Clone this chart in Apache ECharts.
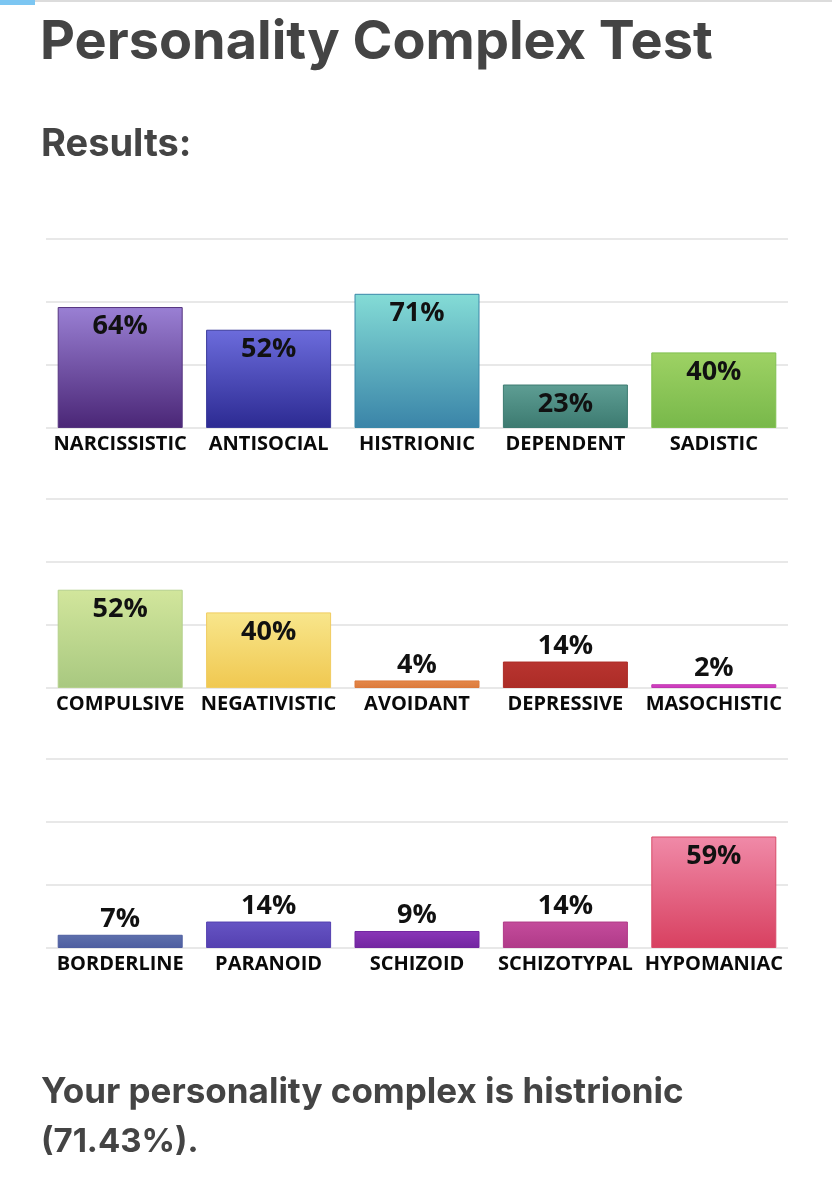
<!DOCTYPE html>
<html>
<head>
<meta charset="utf-8">
<script src="https://cdn.jsdelivr.net/npm/echarts@6/dist/echarts.min.js"></script>
<style>
html,body{margin:0;padding:0;background:#fff;}
#c{width:832px;height:1200px;}
</style>
</head>
<body>
<div id="c"></div>
<script>
// ---- data ----
var categories1 = ['NARCISSISTIC','ANTISOCIAL','HISTRIONIC','DEPENDENT','SADISTIC'];
var values1 = [64, 52, 71, 23, 40];
var categories2 = ['COMPULSIVE','NEGATIVISTIC','AVOIDANT','DEPRESSIVE','MASOCHISTIC'];
var values2 = [52, 40, 4, 14, 2];
var categories3 = ['BORDERLINE','PARANOID','SCHIZOID','SCHIZOTYPAL','HYPOMANIAC'];
var values3 = [7, 14, 9, 14, 59];
var titleText = 'Personality Complex Test';
var subtitleText = 'Results:';
var resultLine1 = 'Your personality complex is histrionic';
var resultLine2 = '(71.43%).';

// ---- styles (top colour, bottom colour, border) ----
var palette1 = [['#9a80d4','#4a2676','#54347e'],['#6c6cdc','#2c2a92','#3a3a9a'],['#84dcd6','#3a84a8','#3a88a8'],['#5e9e94','#3c7a70','#3c7a70'],['#9ed264','#78b84a','#80c050']];
var palette2 = [['#d2e69c','#a8c880','#b4d08c'],['#f8e68c','#f0c850','#f0cc60'],['#e4884a','#dc7a3c','#dc7a3c'],['#b83430','#ac2c26','#ac2c26'],['#d848c8','#c836b8','#c036b0']];
var palette3 = [['#5e70ac','#4e5ea0','#4e5ea0'],['#6654c4','#5440b0','#5440b0'],['#8a36b8','#7226a0','#7226a0'],['#c44c9c','#b03a88','#b03a88'],['#f08aa8','#d84060','#d84a68']];

function grad(c){
  return new echarts.graphic.LinearGradient(0,0,0,1,[{offset:0,color:c[0]},{offset:1,color:c[1]}]);
}
function buildData(vals, pal){
  return vals.map(function(v,i){
    var inside = v >= 20;
    return {
      value: v,
      itemStyle: {color: grad(pal[i]), borderColor: pal[i][2], borderWidth: 1},
      label: {position: inside ? 'insideTop' : 'top', distance: inside ? 6 : 2}
    };
  });
}

var gridTops = [239, 499, 759];
var gridH = 189;
var grids = [], xAxes = [], yAxes = [], series = [];
var cats = [categories1, categories2, categories3];
var vals = [values1, values2, values3];
var pals = [palette1, palette2, palette3];
for (var g = 0; g < 3; g++) {
  grids.push({left: 46, right: 44, top: gridTops[g], height: gridH});
  xAxes.push({
    type: 'category', gridIndex: g, data: cats[g],
    axisLine: {show: false}, axisTick: {show: false},
    axisLabel: {interval: 0, margin: 6, color: '#0a0a0a', fontFamily: 'Open Sans', fontWeight: 'bold', fontSize: 20}
  });
  yAxes.push({
    type: 'value', gridIndex: g, min: 0, max: 100, interval: 100/3,
    axisLabel: {show: false}, axisLine: {show: false}, axisTick: {show: false},
    splitLine: {show: true, lineStyle: {color: '#e8e8e8', width: 2}}
  });
  series.push({
    type: 'bar', xAxisIndex: g, yAxisIndex: g, barWidth: 125,
    data: buildData(vals[g], pals[g]),
    label: {show: true, formatter: '{c}%', color: '#111', fontFamily: 'Open Sans', fontWeight: 'bold', fontSize: 27},
    animation: false
  });
}

var chart = echarts.init(document.getElementById('c'), null, {renderer: 'canvas'});
chart.setOption({
  animation: false,
  backgroundColor: '#fff',
  title: [
    {text: titleText, left: 35, top: 11, textStyle: {fontFamily: 'Inter', fontWeight: 'bold', fontSize: 54, color: '#444'}},
    {text: subtitleText, left: 36, top: 121, textStyle: {fontFamily: 'Inter', fontWeight: 'bold', fontSize: 38, color: '#444'}},
    {text: resultLine1, left: 36, top: 1070, textStyle: {fontFamily: 'Inter', fontWeight: 'bold', fontSize: 35, color: '#444'}},
    {text: resultLine2, left: 36, top: 1121, textStyle: {fontFamily: 'Inter', fontWeight: 'bold', fontSize: 33, color: '#444'}}
  ],
  graphic: [
    {type: 'rect', shape: {x: 0, y: 0, width: 832, height: 2}, style: {fill: '#dcdcdc'}},
    {type: 'rect', shape: {x: 0, y: 0, width: 35, height: 5}, style: {fill: '#7cc6f2'}}
  ],
  grid: grids,
  xAxis: xAxes,
  yAxis: yAxes,
  series: series
});
</script>
</body>
</html>
